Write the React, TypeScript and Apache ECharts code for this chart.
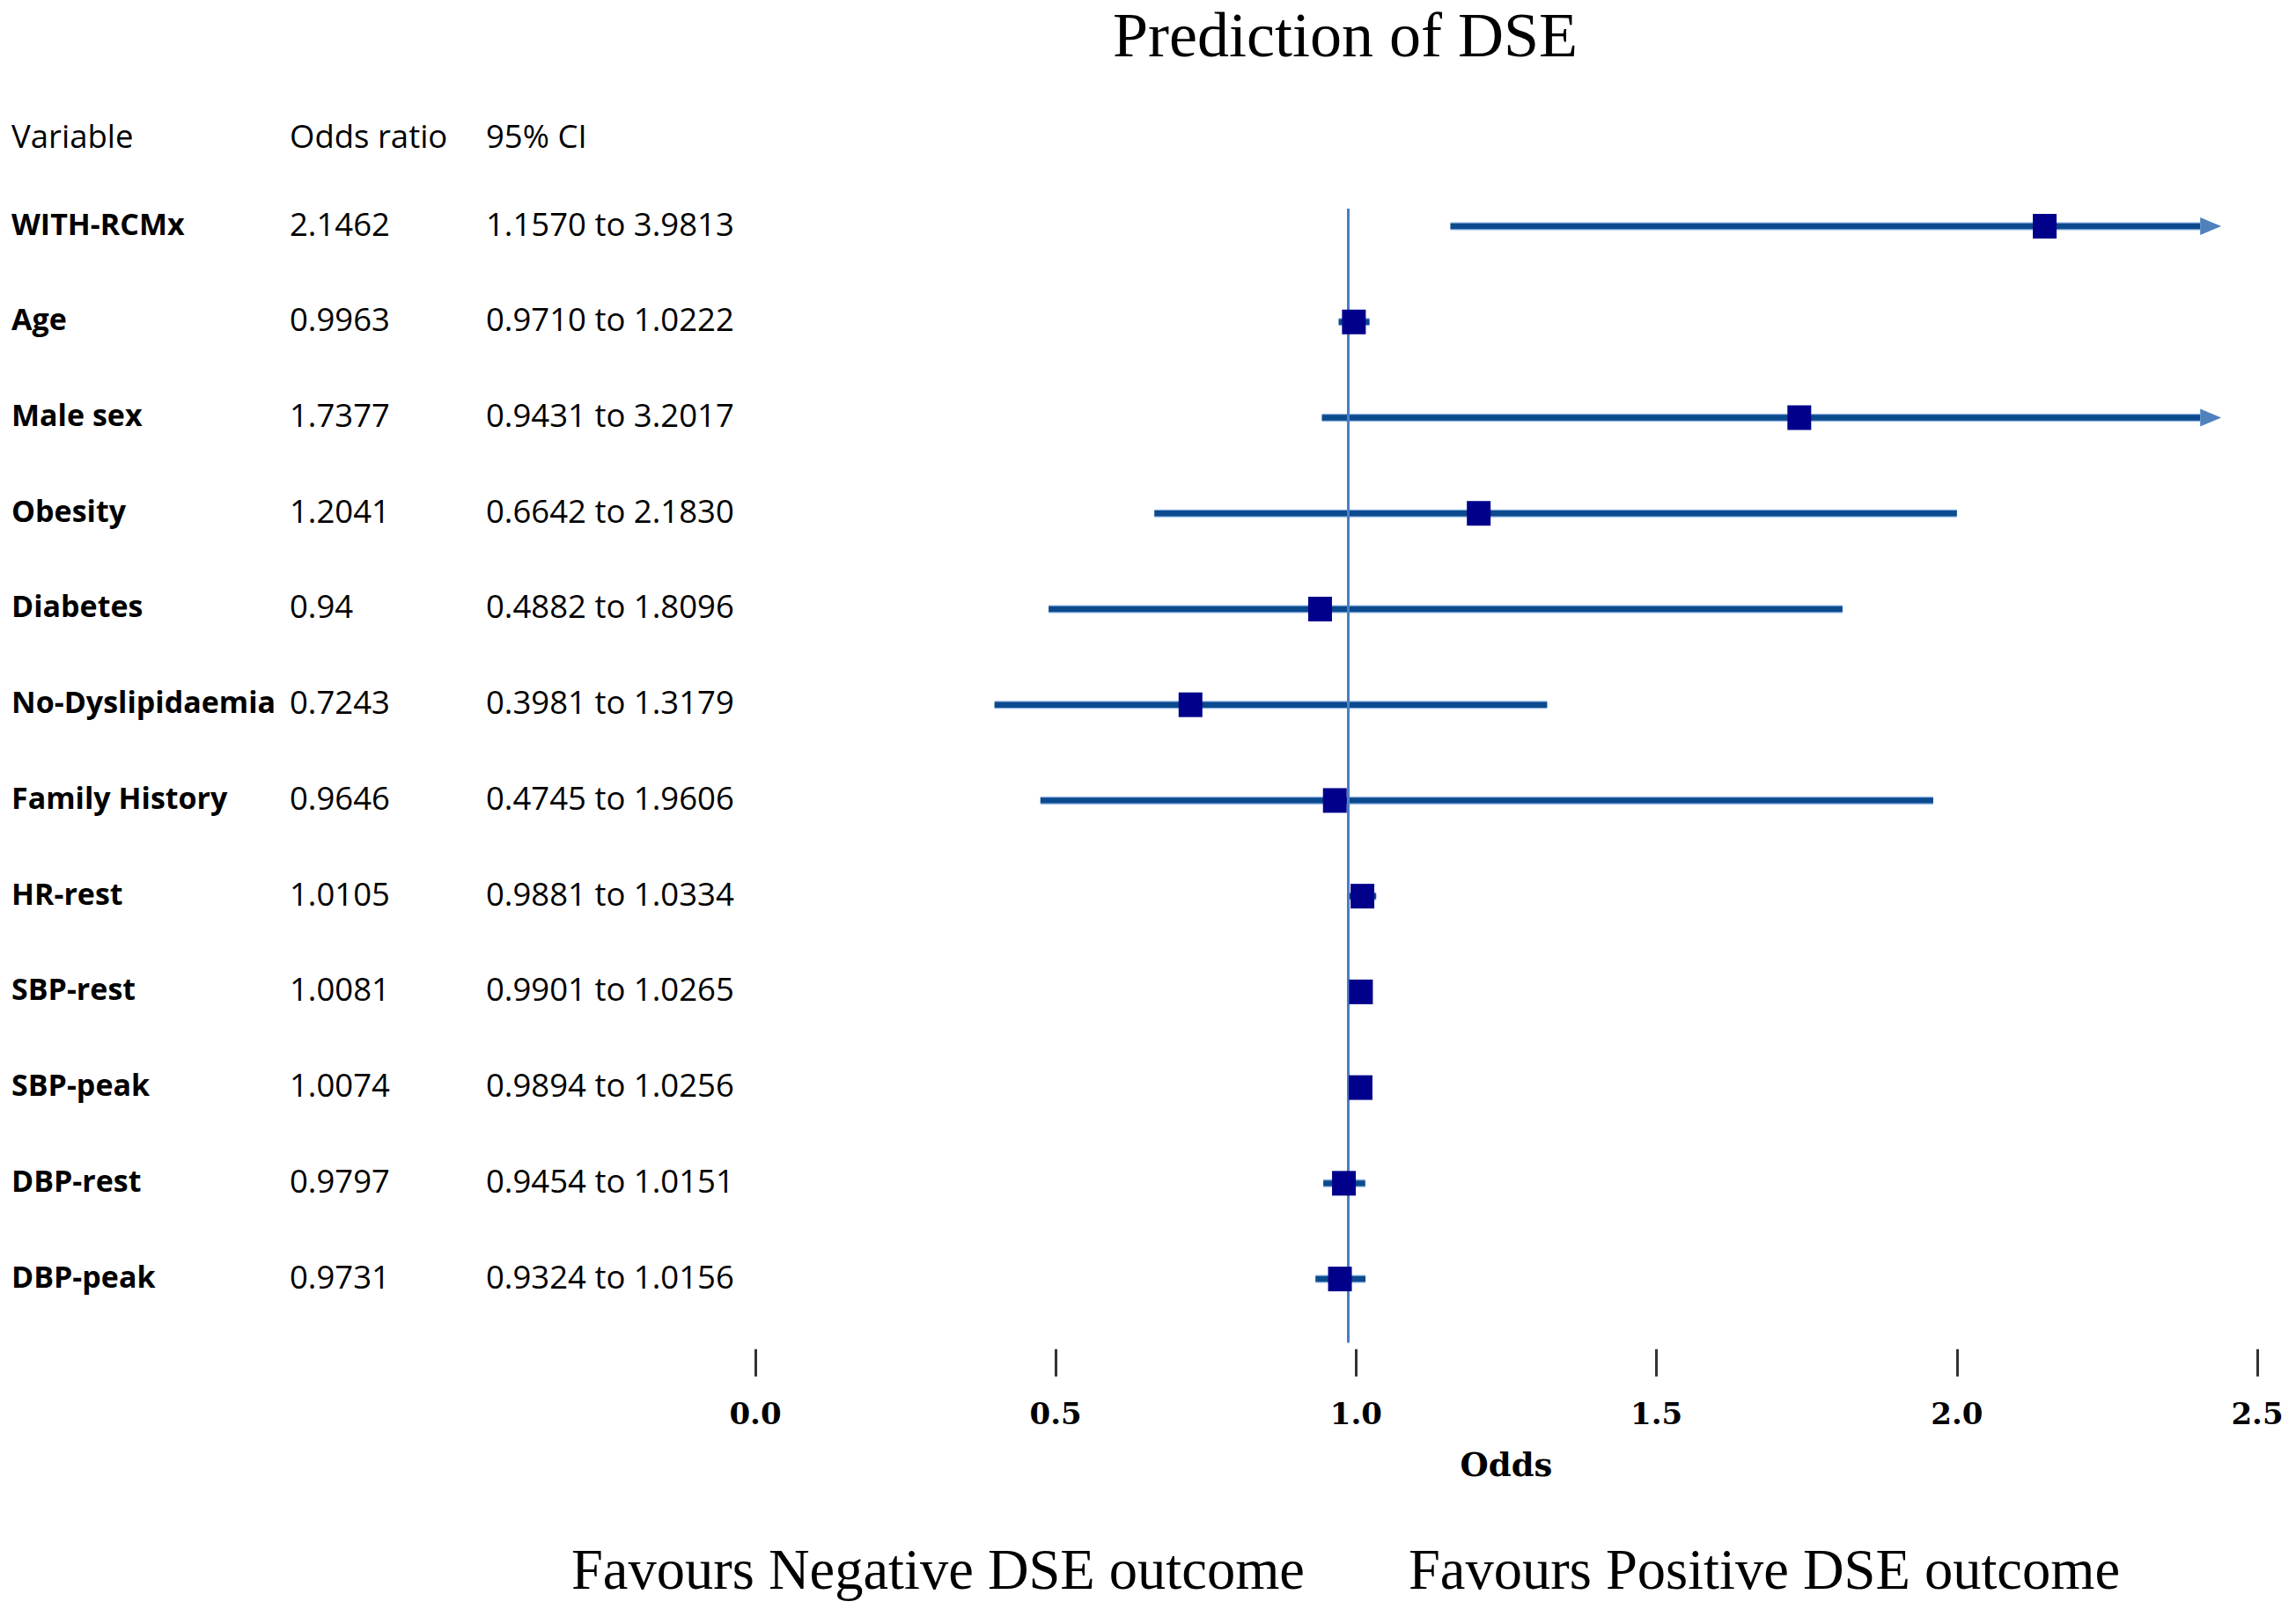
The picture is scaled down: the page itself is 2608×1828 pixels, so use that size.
import React, { useEffect, useRef } from "react";
import * as echarts from "echarts";

const variables = [
  "WITH-RCMx", "Age", "Male sex", "Obesity", "Diabetes", "No-Dyslipidaemia",
  "Family History", "HR-rest", "SBP-rest", "SBP-peak", "DBP-rest", "DBP-peak",
];
const orLabels = [
  "2.1462", "0.9963", "1.7377", "1.2041", "0.94", "0.7243",
  "0.9646", "1.0105", "1.0081", "1.0074", "0.9797", "0.9731",
];
const ciLabels = [
  "1.1570 to 3.9813", "0.9710 to 1.0222", "0.9431 to 3.2017", "0.6642 to 2.1830",
  "0.4882 to 1.8096", "0.3981 to 1.3179", "0.4745 to 1.9606", "0.9881 to 1.0334",
  "0.9901 to 1.0265", "0.9894 to 1.0256", "0.9454 to 1.0151", "0.9324 to 1.0156",
];
const oddsRatio = [2.1462, 0.9963, 1.7377, 1.2041, 0.94, 0.7243, 0.9646, 1.0105, 1.0081, 1.0074, 0.9797, 0.9731];
const ciLower = [1.157, 0.971, 0.9431, 0.6642, 0.4882, 0.3981, 0.4745, 0.9881, 0.9901, 0.9894, 0.9454, 0.9324];
// upper ends as drawn in the picture (Obesity's bar ends at 2.0 in the source figure)
const ciUpper = [3.9813, 1.0222, 3.2017, 2.0, 1.8096, 1.3179, 1.9606, 1.0334, 1.0265, 1.0256, 1.0151, 1.0156];
const xTicks = [0, 0.5, 1.0, 1.5, 2.0, 2.5];
const headers = ["Variable", "Odds ratio", "95% CI"];
const clipAt = 2.405;
const arrowTip = 2.44;
const refLine = 0.986;

const W = 2608;
const H = 1828;
const gridLeft = 858;
const gridRight = 44;
const gridTop = 148.3;
const gridBottom = 266.2;
const textShift = 3.5;
const tableFont = "'Open Sans', sans-serif";
const serif = "'Liberation Serif', serif";

function labelAxis(labels: string[], margin: number, bold: boolean) {
  return {
    type: "value",
    gridIndex: 1,
    min: 0,
    max: 13,
    interval: 1,
    inverse: true,
    position: "left",
    axisLine: { show: false, onZero: false },
    axisTick: { show: false },
    splitLine: { show: false },
    axisLabel: {
      show: true,
      margin,
      align: "left",
      fontFamily: tableFont,
      fontSize: bold ? 34 : 36.5,
      fontWeight: bold ? "bold" : "normal",
      color: "#000",
      formatter: (v: number) => {
        const i = Math.round(v) - 1;
        return i >= 0 && i < labels.length ? labels[i] : "";
      },
    },
  };
}

export default function App() {
  const ref = useRef<HTMLDivElement>(null);
  useEffect(() => {
    if (!ref.current) return;
    const chart = echarts.init(ref.current, null, { renderer: "svg" });
    const rows = variables.map((_, i) => i + 1);
    const option: any = {
      animation: false,
      backgroundColor: "#fff",
      grid: [
        { left: gridLeft, right: gridRight, top: gridTop, bottom: gridBottom, containLabel: false },
        { left: gridLeft, right: gridRight, top: gridTop - textShift, bottom: gridBottom + textShift, containLabel: false },
      ],
      xAxis: [
        {
          type: "value",
          gridIndex: 0,
          min: 0,
          max: 2.5,
          interval: 0.5,
          offset: 2,
          name: "Odds",
          nameLocation: "middle",
          nameGap: 82,
          nameTextStyle: { fontFamily: "'DejaVu Serif', serif", fontWeight: "bold", fontSize: 37, color: "#000" },
          axisLine: { show: false, onZero: false },
          axisTick: { show: true, inside: true, length: 31, lineStyle: { color: "#333", width: 3 } },
          splitLine: { show: false },
          axisLabel: {
            margin: 25,
            fontFamily: "'DejaVu Serif', serif",
            fontWeight: "bold",
            fontSize: 34,
            color: "#000",
            formatter: (v: number) => (xTicks.includes(v) ? v.toFixed(1) : ""),
          },
        },
        {
          type: "value",
          gridIndex: 1,
          min: 0,
          max: 2.5,
          show: false,
          axisLine: { show: false, onZero: false },
          splitLine: { show: false },
        },
      ],
      yAxis: [
        {
          type: "value",
          gridIndex: 0,
          min: 0,
          max: 13,
          interval: 1,
          inverse: true,
          axisLine: { show: false, onZero: false },
          axisTick: { show: false },
          splitLine: { show: false },
          axisLabel: { show: false },
        },
        labelAxis(variables, gridLeft - 13, true),
        labelAxis(orLabels, gridLeft - 329, false),
        labelAxis(ciLabels, gridLeft - 552, false),
      ],
      graphic: [
        {
          type: "text",
          x: 1528,
          y: 40,
          style: { text: "Prediction of DSE", fontFamily: serif, fontSize: 72, fill: "#000", textAlign: "center", textVerticalAlign: "middle" },
        },
        ...headers.map((h, i) => ({
          type: "text",
          x: [13, 329, 552][i],
          y: 154,
          style: { text: h, fontFamily: tableFont, fontSize: 36.5, fill: "#000", textAlign: "left", textVerticalAlign: "middle" },
        })),
        {
          type: "text",
          x: 649,
          y: 1783,
          style: { text: "Favours Negative DSE outcome", fontFamily: serif, fontSize: 64.5, fill: "#000", textAlign: "left", textVerticalAlign: "middle" },
        },
        {
          type: "text",
          x: 1600,
          y: 1783,
          style: { text: "Favours Positive DSE outcome", fontFamily: serif, fontSize: 64.5, fill: "#000", textAlign: "left", textVerticalAlign: "middle" },
        },
      ],
      series: [
        {
          type: "custom",
          xAxisIndex: 0,
          yAxisIndex: 0,
          z: 2,
          encode: { x: [1, 2], y: 0 },
          data: rows.map((r, i) => [r, ciLower[i], ciUpper[i]]),
          renderItem: (params: any, api: any) => {
            const row = api.value(0);
            const lo = api.value(1);
            const hi = api.value(2);
            const clipped = hi > clipAt;
            const p1 = api.coord([lo, row]);
            const p2 = api.coord([Math.min(hi, clipAt), row]);
            const w = p2[0] - p1[0];
            const children: any[] = [
              { type: "rect", shape: { x: p1[0], y: p1[1] - 4.5, width: w, height: 9 }, style: { fill: "#8DB3E2" } },
              { type: "rect", shape: { x: p1[0], y: p1[1] - 3.2, width: w, height: 6.4 }, style: { fill: "#0C4A8E" } },
            ];
            if (clipped) {
              const tip = api.coord([arrowTip, row]);
              children.push({
                type: "polygon",
                shape: { points: [[p2[0], p2[1] - 10], [tip[0], p2[1]], [p2[0], p2[1] + 10]] },
                style: { fill: "#4F81BD" },
              });
            }
            return { type: "group", children };
          },
        },
        {
          type: "scatter",
          xAxisIndex: 0,
          yAxisIndex: 0,
          z: 4,
          symbol: "rect",
          symbolSize: [27, 28],
          itemStyle: { color: "#00008B", opacity: 1 },
          data: rows.map((r, i) => [oddsRatio[i], r]),
          markLine: {
            silent: true,
            symbol: "none",
            z: 3,
            label: { show: false },
            lineStyle: { color: "#4A7EC4", width: 3, type: "solid", opacity: 1 },
            data: [[{ coord: [refLine, 0.816] }, { coord: [refLine, 12.667] }]],
          },
        },
      ],
    };
    chart.setOption(option);
    return () => chart.dispose();
  }, []);
  return (
    <div
      ref={ref}
      style={{ position: "fixed", left: 0, top: 0, width: W, height: H, background: "#fff" }}
    />
  );
}
